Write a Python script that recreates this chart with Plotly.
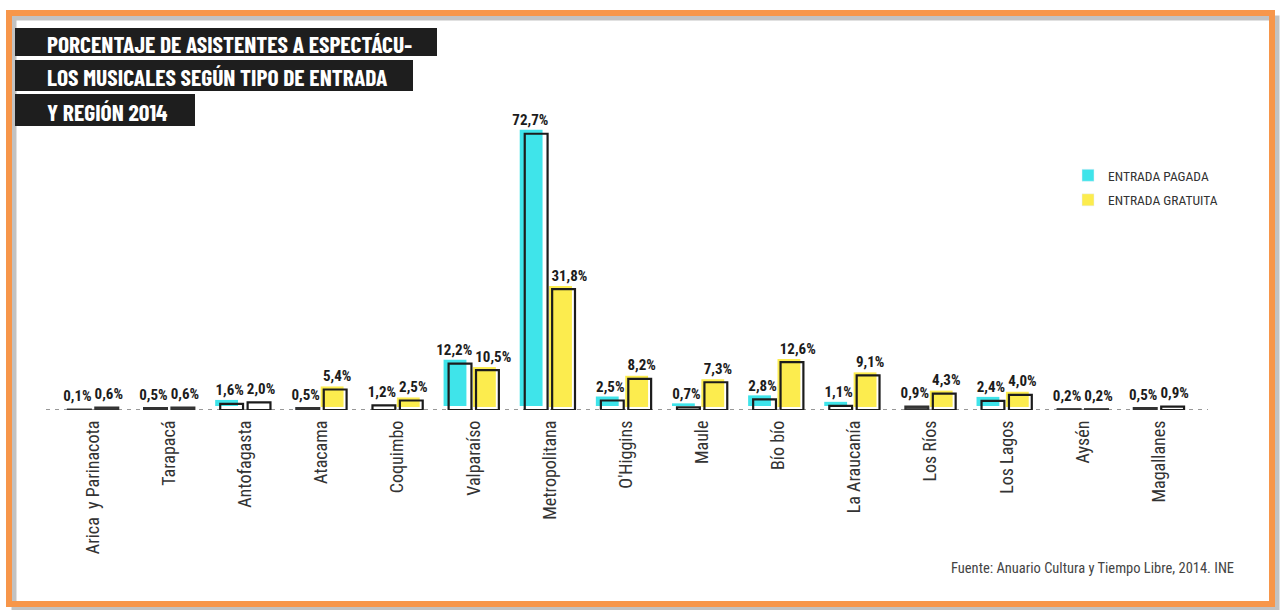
import plotly.graph_objects as go

# ---------------- data ----------------
categories = ["Arica\u00a0 y Parinacota", "Tarapacá", "Antofagasta", "Atacama", "Coquimbo",
              "Valparaíso", "Metropolitana", "O'Higgins", "Maule", "Bío bío",
              "La Araucanía", "Los Ríos", "Los Lagos", "Aysén", "Magallanes"]
pagada = [0.1, 0.5, 1.6, 0.5, 1.2, 12.2, 72.7, 2.5, 0.7, 2.8, 1.1, 0.9, 2.4, 0.2, 0.5]
gratuita = [0.6, 0.6, 2.0, 5.4, 2.5, 10.5, 31.8, 8.2, 7.3, 12.6, 9.1, 4.3, 4.0, 0.2, 0.9]
series_names = ["ENTRADA PAGADA", "ENTRADA GRATUITA"]
title_lines = ["PORCENTAJE DE ASISTENTES A ESPECTÁCU-", "LOS MUSICALES SEGÚN TIPO DE ENTRADA", "Y REGIÓN 2014"]
source = "Fuente: Anuario Cultura y Tiempo Libre, 2014. INE"

# ---------------- style ----------------
# fill kind per bar: c = cyan, y = yellow, g = dark grey, w = hollow
pagada_kind = ['g', 'g', 'c', 'g', 'w', 'c', 'c', 'c', 'c', 'c', 'c', 'g', 'c', 'g', 'g']
gratuita_kind = ['g', 'g', 'w', 'y', 'y', 'y', 'y', 'y', 'y', 'y', 'y', 'y', 'y', 'g', 'w']
CYAN = "#3fe4ea"
YELLOW = "#fcec4e"
GREY = "#4a4a4a"
INK = "#1c1c1c"
ORANGE = "#f7964a"
TITLE_FONT = "Barlow Condensed, Oswald, Roboto Condensed, Liberation Sans Narrow, DejaVu Sans Condensed, Roboto, sans-serif"
COND = "Roboto Condensed, Barlow Condensed, Liberation Sans Narrow, DejaVu Sans Condensed, Roboto, sans-serif"

W, H = 1283, 610
L, R, T, B = 55, 86, 100, 200
PW, PH = W - L - R, H - T - B
YMAX = PH / 3.8
UNIT_PX = PW / 15.0


def px(xp):
    return (xp - L) / PW


def py(yp):
    return (H - B - yp) / PH


x = list(range(len(categories)))
BW = 0.30
OFF_P, OFF_G = -0.33, 0.03
LABEL_MARKER = 6
LABEL_PAD = (LABEL_MARKER / 2 / 0.8 + 1) / UNIT_PX

fig = go.Figure()


def add_series(vals, kinds, offset, color, dx, dy, label_x_shift, label_pos):
    fill_cols = [color if k in ('c', 'y') else 'rgba(0,0,0,0)' for k in kinds]
    bases = [dy if k in ('c', 'y') else 0 for k in kinds]
    fig.add_trace(go.Bar(x=x, y=vals, base=bases, offset=offset + dx, width=BW,
                         marker=dict(color=fill_cols, line=dict(width=0)),
                         showlegend=False, hoverinfo='skip'))
    out_cols = [GREY if k == 'g' else 'rgba(0,0,0,0)' for k in kinds]
    line_cols = ["#333333" if k == 'g' else INK for k in kinds]
    fig.add_trace(go.Bar(x=x, y=vals, offset=offset, width=BW,
                         marker=dict(color=out_cols, line=dict(width=2.2, color=line_cols)),
                         showlegend=False, hoverinfo='skip'))
    # value labels
    fig.add_trace(go.Scatter(x=[xi + label_x_shift for xi in x], y=vals, mode="markers+text",
                             marker=dict(size=LABEL_MARKER, opacity=0),
                             text=[f"{v:.1f}".replace(".", ",") + "%" for v in vals],
                             textposition=label_pos, cliponaxis=False,
                             textfont=dict(family=COND, size=15, color=INK, weight="bold"),
                             showlegend=False, hoverinfo='skip'))


add_series(pagada, pagada_kind, OFF_P, CYAN, -0.066, 1.05, OFF_P + BW + 0.01 + LABEL_PAD, "top left")
add_series(gratuita, gratuita_kind, OFF_G, YELLOW, -0.04, 0.8, OFF_G - 0.01 - LABEL_PAD, "top right")

# legend entries
for i, (name, col) in enumerate(zip(series_names, [CYAN, YELLOW])):
    fig.add_trace(go.Bar(x=[None], y=[None], name=name, marker=dict(color=col),
                         showlegend=True, legendgroup=f"g{i}"))

shapes = []
# shadow + orange frame
shapes.append(dict(type="rect", xref="paper", yref="paper", x0=px(14), x1=px(1277), y0=py(18), y1=py(608),
                   line=dict(color="rgba(120,120,120,0.45)", width=5), layer="below"))
shapes.append(dict(type="rect", xref="paper", yref="paper", x0=px(9), x1=px(1272), y0=py(13), y1=py(604),
                   line=dict(color=ORANGE, width=6), layer="above"))
# baseline dashed
shapes.append(dict(type="line", xref="paper", yref="y", x0=px(46), x1=px(1208), y0=0, y1=0,
                   line=dict(color="#777777", width=1.3, dash="4px,5px"), layer="below"))
# title boxes
boxes = [(15, 437, 28, 56), (15, 413, 60, 91), (15, 195, 94, 126)]
for (a, b, c, d) in boxes:
    shapes.append(dict(type="rect", xref="paper", yref="paper", x0=px(a), x1=px(b), y0=py(d), y1=py(c),
                       fillcolor="#1e1e1e", line=dict(width=0)))

annotations = []
for (a, b, c, d), t in zip(boxes, title_lines):
    annotations.append(dict(xref="paper", yref="paper", x=px(45), y=py((c + d) / 2 + 1), text=t,
                            xanchor="left", yanchor="middle", showarrow=False,
                            font=dict(family=TITLE_FONT, size=23.5, color="white", weight="bold")))
annotations.append(dict(xref="paper", yref="paper", x=px(1236), y=py(568), text=source,
                        xanchor="right", yanchor="middle", showarrow=False,
                        font=dict(family=COND, size=14.5, color="#444444")))

fig.update_layout(
    width=W, height=H,
    margin=dict(l=L, r=R, t=T, b=B),
    paper_bgcolor="white", plot_bgcolor="white",
    barmode="overlay",
    shapes=shapes, annotations=annotations,
    legend=dict(x=px(1068), y=py(160), xanchor="left", yanchor="top",
                font=dict(family=COND, size=13.5, color="#333333"),
                bgcolor="rgba(0,0,0,0)", tracegroupgap=4, itemwidth=30),
    xaxis=dict(range=[-0.5, 14.5], tickmode="array", tickvals=x, ticktext=categories,
               tickangle=-90, ticks="", showgrid=False, zeroline=False, showline=False,
               tickfont=dict(family=COND, size=18, color="#333333"), ticklabelstandoff=6),
    yaxis=dict(range=[0, YMAX], visible=False, showgrid=False, zeroline=False),
)

fig.write_html("out.html", config={"displayModeBar": False},
               post_script="document.body.style.margin='0';")
